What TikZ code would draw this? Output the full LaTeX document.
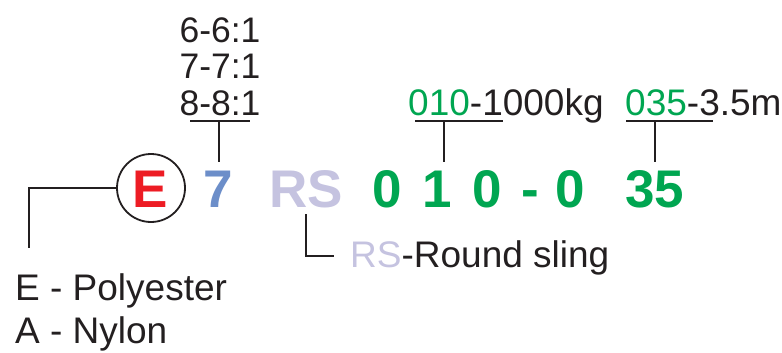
\documentclass[tikz,border=0pt]{standalone}
\usepackage{fontspec}
\setmainfont{Liberation Sans}
\definecolor{cred}{HTML}{ED1C24}
\definecolor{cblue}{HTML}{6C8EC9}
\definecolor{clav}{HTML}{C5C3E0}
\definecolor{cgreen}{HTML}{00A651}
\definecolor{cline}{HTML}{231F20}
\tikzset{
  big/.style={inner sep=0pt, anchor=base, font=\fontsize{53}{53}\selectfont\bfseries},
  lbl/.style={inner sep=0pt, font=\fontsize{37}{37}\selectfont, text=cline},
  ratio/.style={inner sep=0pt, anchor=base, font=\fontsize{35.5}{35.5}\selectfont, text=cline},
  conn/.style={draw=cline, line width=1.8pt},
}
\begin{document}
\begin{tikzpicture}[x=1pt,y=-1pt]
\useasboundingbox (0,0) rectangle (782,353);
% big code
\node[draw=cline, line width=1.8pt, circle, minimum size=68pt, inner sep=0pt] (circ) at (151,188) {};
\node[big, text=cred] (e) at (150,207) {E};
\node[big, text=cblue] (seven) at (218.5,207) {7};
\node[big, text=clav] (rs) at (306,207) {RS};
\node[big, text=cgreen] (d1) at (387.5,207) {0};
\node[big, text=cgreen] (d2) at (437,207) {1};
\node[big, text=cgreen] (d3) at (487.5,207) {0};
\node[big, text=cgreen] (d4) at (530.5,207) {-};
\node[big, text=cgreen] (d5) at (570,207) {0};
\node[big, text=cgreen] (d6) at (655,207) {35};
% ratios
\node[ratio] (r6) at (220,43) {6-6:1};
\node[ratio] (r7) at (220,79) {7-7:1};
\node[ratio] (r8) at (220,115) {8-8:1};
% capacity / length
\node[lbl, anchor=base west] (cap) at (408,115) {\textcolor{cgreen}{010}-1000kg};
\node[lbl, anchor=base west] (len) at (625,115) {\textcolor{cgreen}{035}-3.5m};
% material
\node[lbl, anchor=base west] (mat1) at (15,300) {E - Polyester};
\node[lbl, anchor=base west] (mat2) at (15,343) {A - Nylon};
% RS label
\node[lbl, anchor=base west] (rslbl) at (350,267) {\textcolor{clav}{RS}-Round sling};
% connector coordinates
\coordinate (b7l) at (190,121);
\coordinate (b7r) at (250,121);
\coordinate (b7m) at (219,121);
\coordinate (b7t) at (219,162);
\coordinate (bcl) at (415,121);
\coordinate (bcr) at (503,121);
\coordinate (bcm) at (444,121);
\coordinate (bct) at (444,162);
\coordinate (bll) at (626,121);
\coordinate (blr) at (713,121);
\coordinate (blm) at (655,121);
\coordinate (blt) at (655,162);
\coordinate (lc) at (29,248);
\coordinate (rstop) at (306,214);
\coordinate (rsend) at (334,256);
% connectors
\draw[conn] (b7l) -- (b7r);
\draw[conn] (b7m) -- (b7t);
\draw[conn] (bcl) -- (bcr);
\draw[conn] (bcm) -- (bct);
\draw[conn] (bll) -- (blr);
\draw[conn] (blm) -- (blt);
\draw[conn] (circ.west) -| (lc);
\draw[conn] (rstop) |- (rsend);
\end{tikzpicture}
\end{document}
